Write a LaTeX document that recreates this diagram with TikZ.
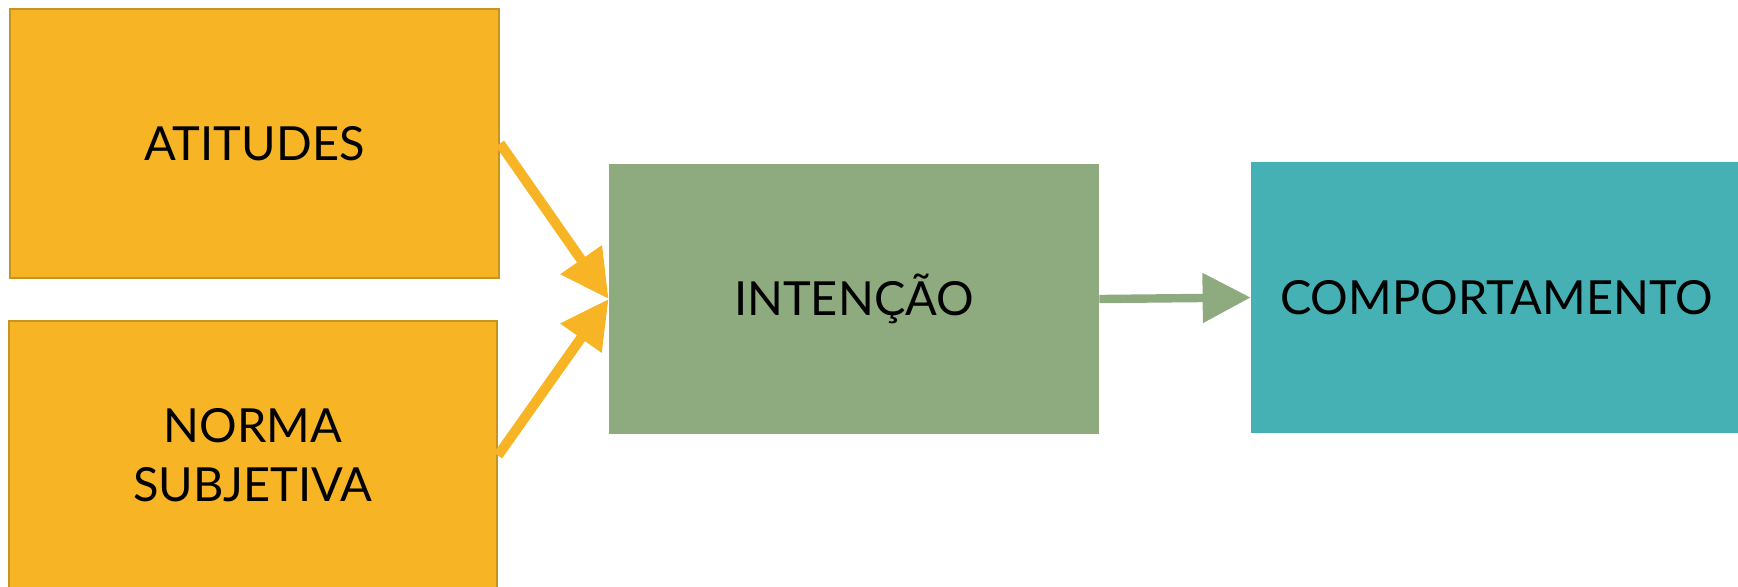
\documentclass[tikz,border=0pt]{standalone}
\usepackage{fontspec}
\setmainfont{Lato}
\usepackage{tikz}
\usetikzlibrary{arrows.meta}
\definecolor{amarelo}{HTML}{F7B424}
\definecolor{amareloborda}{HTML}{C9931F}
\definecolor{verde}{HTML}{8EAA7F}
\definecolor{azul}{HTML}{46B1B5}

\begin{document}
\begin{tikzpicture}[x=0.5pt,y=-0.5pt,
		caixa/.style={inner sep=0pt,align=center,text=black,
			font=\fontsize{23.5}{29.5}\selectfont},
		seta/.style={line width=5pt,-{Triangle[length=24pt,width=24pt]}}]
		\useasboundingbox (0,0) rectangle (1738,586);
		\clip (0,0) rectangle (1738,586);
		\coordinate (A) at (254.5,143.5);
		\coordinate (N) at (253,455.5);
		\coordinate (I) at (854,299);
		\coordinate (C) at (1496.5,297.5);
		\node[caixa,fill=amarelo,draw=amareloborda,line width=1pt,
			minimum width=244.5pt,minimum height=134.5pt] (atitudes) at (A) {ATITUDES};
		\node[caixa,fill=amarelo,draw=amareloborda,line width=1pt,
			minimum width=244pt,minimum height=134.5pt] (norma) at (N) {NORMA\\SUBJETIVA};
		\node[caixa,fill=verde,minimum width=245pt,minimum height=135pt] (intencao) at (I) {INTENÇÃO};
		\node[caixa,fill=azul,minimum width=245.5pt,minimum height=135.5pt] (comportamento) at (C) {COMPORTAMENTO};
		\draw[seta,amarelo] (atitudes.east)--(intencao.west);
		\draw[seta,amarelo] (norma.east)--(intencao.west);
		\draw[seta,verde,line width=4.2pt] (intencao.east)--(comportamento.west);
		\end{tikzpicture}
\end{document}
